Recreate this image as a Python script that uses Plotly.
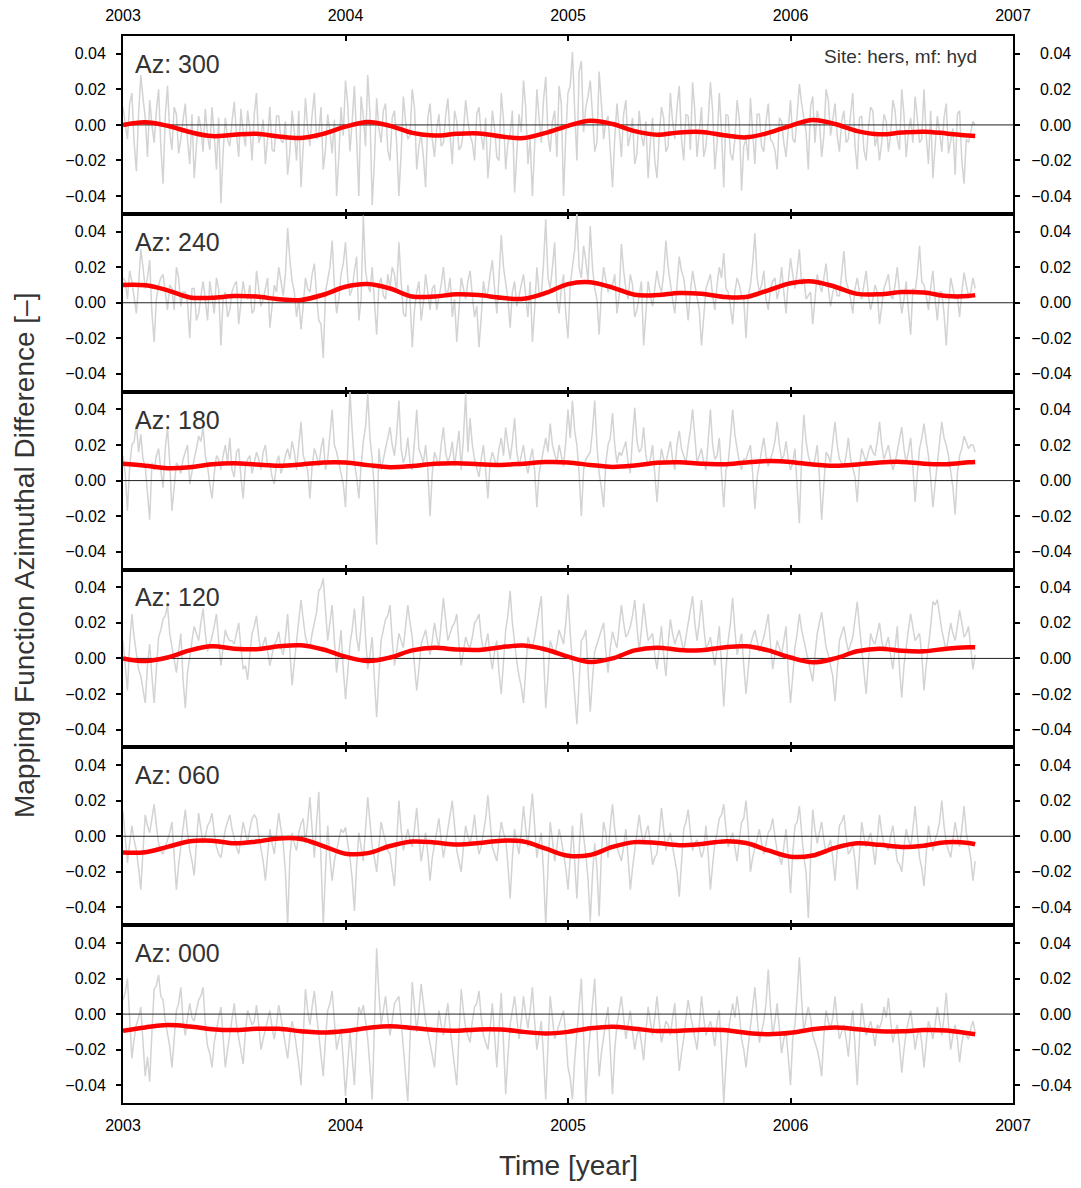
import numpy as np
import plotly.graph_objects as go

# ---------------- data (values in units of 1e-3) ----------------
AZ_LABELS = ["Az: 300", "Az: 240", "Az: 180", "Az: 120", "Az: 060", "Az: 000"]
SITE_LABEL = "Site: hers, mf: hyd"
YEAR_TICKS = [2003, 2004, 2005, 2006, 2007]
Y_TICKS = [-0.04, -0.02, 0.0, 0.02, 0.04]
Y_TICKTEXT_LEFT = ["\u22120.04", "\u22120.02", "0.00", "0.02", "0.04"]
Y_TICKTEXT_RIGHT = ["\u22120.04", "\u22120.02", "\u20070.00", "\u20070.02", "\u20070.04"]
T_START, T_END = 2003.0, 2006.83   # span of the difference series

RED_T = [2003.0, 2003.1, 2003.2, 2003.3, 2003.4, 2003.5, 2003.6, 2003.7, 2003.8, 2003.9,
         2004.0, 2004.1, 2004.2, 2004.3, 2004.4, 2004.5, 2004.6, 2004.7, 2004.8, 2004.9,
         2005.0, 2005.1, 2005.2, 2005.3, 2005.4, 2005.5, 2005.6, 2005.7, 2005.8, 2005.9,
         2006.0, 2006.1, 2006.2, 2006.3, 2006.4, 2006.5, 2006.6, 2006.7, 2006.8, 2006.83]

red_300 = [0.0, 1.5, -0.5, -4.0, -6.3, -5.5, -5.0, -6.5, -7.3, -5.0,
           -1.0, 1.7, -0.5, -4.5, -6.0, -5.0, -4.8, -6.5, -7.4, -4.5,
           -0.5, 2.3, 0.5, -3.5, -5.5, -4.2, -4.0, -5.8, -7.0, -4.5,
           -0.5, 2.8, 0.5, -3.5, -5.3, -4.3, -3.8, -4.8, -6.0, -6.2]
red_240 = [10.0, 9.8, 7.0, 3.0, 2.8, 3.8, 3.5, 2.0, 1.6, 4.5,
           9.0, 10.5, 8.0, 3.5, 3.5, 4.8, 4.3, 2.8, 2.2, 5.5,
           10.5, 11.5, 8.5, 4.5, 4.3, 5.5, 5.0, 3.3, 3.2, 7.0,
           11.0, 12.0, 9.0, 5.0, 4.8, 6.0, 5.8, 3.8, 3.8, 4.3]
red_180 = [9.4, 8.3, 7.0, 7.5, 9.2, 9.8, 9.0, 8.3, 9.0, 10.2,
           10.2, 8.7, 7.5, 8.2, 9.5, 9.8, 9.2, 8.8, 9.5, 10.4,
           10.2, 8.8, 7.7, 8.5, 10.0, 10.3, 9.5, 9.2, 10.2, 11.0,
           10.5, 9.0, 8.3, 9.0, 10.2, 10.5, 9.5, 9.2, 10.3, 10.5]
red_120 = [0.0, -1.5, 0.5, 4.5, 6.8, 5.5, 5.2, 6.8, 7.4, 5.0,
           1.0, -1.5, 0.5, 4.5, 6.0, 5.0, 4.8, 6.3, 7.2, 5.0,
           1.0, -2.0, 0.0, 4.5, 6.0, 4.8, 4.6, 6.2, 6.8, 4.5,
           0.5, -2.2, 0.0, 4.0, 5.5, 4.3, 4.0, 5.5, 6.3, 6.3]
red_060 = [-9.2, -9.0, -6.0, -2.8, -2.5, -4.0, -3.0, -1.2, -1.5, -5.5,
           -9.8, -9.5, -5.5, -3.0, -3.5, -4.7, -3.8, -2.5, -3.0, -7.0,
           -11.0, -10.5, -6.0, -3.3, -3.8, -5.0, -4.3, -2.9, -3.8, -8.0,
           -11.5, -10.8, -6.5, -4.0, -4.8, -6.0, -5.3, -3.4, -3.8, -4.5]
red_000 = [-9.4, -7.5, -6.2, -7.0, -8.5, -9.0, -8.3, -8.3, -9.6, -10.4,
           -9.5, -7.8, -6.8, -7.8, -9.0, -9.3, -8.6, -8.7, -10.0, -10.9,
           -10.0, -8.0, -7.1, -8.2, -9.5, -9.4, -8.8, -9.0, -10.5, -11.3,
           -10.5, -8.5, -7.5, -8.5, -9.6, -9.7, -9.0, -9.2, -10.8, -11.3]

# gray series: "a" samples and the in-between "b" samples (interleaved a0,b0,a1,b1,...)
gray_300_a = [10, -8, 18, -26, 28, 4, 14, -10, 20, -33,
              22, -14, 6, -8, 12, -22, -30, 5, -15, -6,
              10, -25, -44, 4, -12, 13, -18, -4, 8, -20,
              18, -6, -22, 10, -15, 5, -10, -28, 8, -20,
              -35, 15, -12, 18, -5, -25, 6, -16, -40, 10,
              25, -15, 22, -40, 5, 28, -45, 15, -10, 12,
              -20, 8, -40, 16, -8, 20, -25, -5, -35, 12,
              -18, 6, -10, 15, -22, 2, -12, 14, -6, -20,
              10, -14, -30, 8, -18, 18, -25, -5, -38, 6,
              25, -22, -40, 20, -10, 27, -15, 8, 22, -40,
              18, 41, -20, 36, 10, 25, -15, 30, -8, 5,
              -35, 12, -18, 14, -6, -22, 8, -12, -30, 4,
              -30, 10, -15, 18, -8, 22, -20, 5, 24, -18,
              10, -12, 24, -25, 18, -35, 5, -20, 14, -37,
              -8, 15, -22, 6, -15, 12, -10, -25, 2, -18,
              14, -10, 23, 4, -25, 16, 8, -18, 20, -6,
              12, -15, 8, -8, 18, -25, 5, -20, 10, -12,
              -20, 6, -15, 14, -8, 20, -18, 4, 16, -10,
              20, -22, -30, 5, -15, 12, -8, -28, 8, -33,
              -10, 2]
gray_300_b = [2, 12, -10, 6, 15, -18, 0, 8, -12, 5,
              -4, 10, -16, 3, -8, 6, -12, -2, 9, -14,
              -6, 4, -15, -8, 2, -5, 9, -12, -2, 6,
              -10, 3, -7, -14, 5, -9, 2, -15, -4, 8,
              -12, -2, 6, -8, 10, -14, -4, 3, -18, -6,
              12, 2, -8, 16, -12, 6, -20, -2, 8, -14,
              4, -10, -16, 2, -6, 10, -12, -18, 4, -8,
              -2, -12, 5, -6, 8, -14, -4, 2, -10, 6,
              -6, 4, -14, -2, -20, 3, -10, 8, -16, -4,
              10, -8, -12, 4, 14, -6, 2, -18, 12, -6,
              22, 8, 30, -4, 16, 6, -10, 12, 2, -14,
              -8, -2, 6, -12, 4, -16, -6, 2, -10, -20,
              -6, 4, -12, 2, 10, -8, 6, -14, 8, -4,
              -18, 2, 8, -10, -4, 6, -16, -8, 3, -12,
              -20, -4, 6, -12, 2, -8, -14, 4, -10, -2,
              -8, 6, 12, -4, 10, -10, 2, -6, 14, 4,
              -6, 2, -10, 6, -12, 4, -14, -2, 8, -6,
              -10, 2, -6, 8, -14, 6, -4, -10, 4, -8,
              -6, 8, -12, -4, 4, -16, -2, 6, -20, -8,
              -4, 0]

gray_240_a = [14, 2, 12, -6, 30, 8, 24, -22, 10, 16,
              -4, 8, 20, -2, 6, -20, 8, -6, 12, -10,
              4, 14, -24, 6, -4, 10, -12, 12, 2, -6,
              18, -2, 8, -14, 10, 20, 4, 42, 12, -8,
              -15, 14, 6, 22, -10, -31, 12, 35, -6, 16,
              34, 4, 18, -10, 49, 10, 20, -18, 14, 2,
              8, 16, 34, -6, 10, -25, 6, -10, 16, -4,
              10, 2, 20, 6, -8, -22, 14, 2, 18, -8,
              -25, 12, 6, 24, -6, 38, 10, -14, 12, 4,
              16, -8, -22, 20, 4, 47, 8, 34, -6, 16,
              -20, 22, 50, 14, 24, 43, 8, -18, 20, 6,
              10, -6, 33, 8, 16, -8, 4, -24, 12, -2,
              18, 6, 35, 10, -6, 26, 14, -10, 18, 2,
              -24, 8, 16, -4, 20, 28, 6, -12, 14, 4,
              -20, 10, 39, 6, 18, -4, 12, 2, 20, -6,
              25, 8, 30, 14, 4, -12, 16, 6, 22, -2,
              10, 4, 29, 8, -6, 14, 2, 18, -4, 10,
              -12, 8, 16, 2, 20, -6, 12, -18, 6, 32,
              10, -4, 18, -10, 6, -24, 14, 2, -8, 17,
              4, 14]
gray_240_b = [12, 18, 4, 10, 20, 14, -6, 2, 14, 6,
              10, -4, 14, 6, 0, 8, -10, 4, 2, 12,
              -6, 8, 2, -8, 6, 12, 0, 4, 10, -4,
              8, 2, 14, -2, 6, 12, 16, 24, 6, 2,
              -2, 8, 16, 4, -12, 6, 20, 10, 2, 22,
              14, 8, 26, 2, 18, 6, -2, 10, 4, 16,
              20, 6, 12, -8, 2, -4, 12, 0, 6, 8,
              -4, 10, 6, 14, 2, -6, 8, 12, 4, -2,
              -8, 4, 16, 8, 14, 20, 2, 6, -2, 10,
              4, 12, -4, 6, 22, 14, 20, 2, 8, -6,
              10, 30, 20, 32, 12, 20, 2, 6, 14, 10,
              16, 4, 18, 2, 10, -4, 12, -6, 4, 8,
              10, 16, 20, 2, 12, 18, 4, 6, 10, -4,
              -6, 12, 4, 10, 14, 8, -2, 6, 10, 2,
              4, 22, 14, 10, 2, 8, 14, 8, 6, 12,
              16, 18, 10, 2, 6, 4, 10, 14, 8, 6,
              4, 16, 12, 2, 8, 6, 10, 4, 2, 6,
              -2, 12, 4, 10, 6, 2, -4, 8, 16, 12,
              4, 8, 2, 6, -6, -2, 8, 4, 6, 10,
              6, 8]

gray_180_a = [14, -17, 20, 32, 26, 8, -22, 6, 18, -4,
              30, -17, 10, 4, 16, -2, 12, 25, 30, 8,
              -10, 14, 6, 20, 24, 2, 18, -10, 12, 4,
              16, 6, 20, 10, -2, 14, 8, 18, 22, 6,
              33, 10, -10, 18, 8, 24, 12, 40, 16, 4,
              -15, 50, 10, -10, 22, 49, 12, -36, 6, 18,
              30, 14, 45, 10, 24, 6, 40, 14, 20, -20,
              16, 8, 30, 10, 22, 18, 6, 49, 35, 12,
              2, 20, -10, 16, 8, 24, 30, 12, 35, 8,
              20, 4, 18, -15, 10, 24, 32, 14, 20, 8,
              40, 45, 20, -20, 12, 16, 45, 4, -15, 20,
              38, 10, 14, 22, 4, 41, 16, 30, 8, 20,
              -12, 18, 10, 22, 6, 28, 14, 20, 40, 10,
              18, 6, 40, 12, 24, -15, 10, 40, 18, 6,
              12, 20, -16, 10, 24, 8, 16, 33, 12, 22,
              6, 18, -24, 37, 14, 8, 20, -22, 16, 10,
              33, 12, 8, 24, 6, -12, 18, 10, 20, 14,
              33, 12, 20, 6, 16, 30, 10, 24, -12, 18,
              32, 14, -15, 10, 33, 20, 6, -19, 14, 25,
              18, 20]
gray_180_b = [4, 8, 22, 16, 12, -6, 10, 14, 6, 18,
              10, -4, 8, 12, 20, 6, 18, 22, 14, -2,
              4, 12, 14, 10, 6, 16, 2, 8, 14, 10,
              12, 16, 8, 2, 10, 4, 14, 12, 16, 20,
              14, 6, 8, 14, 18, 6, 24, 20, 10, -2,
              20, 28, 2, 8, 30, 24, -6, 18, 12, 24,
              20, 26, 18, 14, 10, 22, 18, 10, 6, 4,
              12, 20, 16, 14, 8, 28, 24, 16, 20, 6,
              12, 6, 10, 12, 18, 14, 20, 22, 16, 14,
              10, 12, 6, 4, 18, 16, 20, 10, 14, 22,
              24, 28, 4, 6, 14, 28, 20, -4, 10, 24,
              20, 16, 18, 10, 24, 22, 18, 14, 12, 4,
              6, 12, 16, 12, 20, 18, 10, 28, 22, 14,
              10, 22, 20, 14, 4, 6, 24, 26, 10, 12,
              16, 4, 2, 16, 14, 12, 22, 20, 14, 12,
              10, -4, 14, 22, 10, 12, 2, -2, 14, 22,
              20, 10, 14, 12, 2, 8, 14, 16, 16, 22,
              20, 16, 12, 10, 22, 18, 16, 8, 4, 24,
              22, 2, -2, 20, 24, 14, -4, 4, 18, 22,
              20, 16]

gray_120_a = [10, -18, 25, 4, -10, -25, 8, -25, 12, 22,
              30, 6, -8, 14, -28, 2, 18, 10, 28, 4,
              12, 25, -4, 16, 10, 8, 20, -6, -12, 14,
              24, 4, 12, -4, 8, 15, 2, 25, -15, 10,
              33, 12, 6, 20, 38, 45, 10, 30, -8, 16,
              -23, 8, 28, 4, 35, -6, 12, -33, 10, 22,
              30, -4, 14, 6, 30, 12, -18, 8, 16, 2,
              20, 6, 34, 10, 18, 25, -4, 12, 6, 20,
              25, 4, 14, -6, 10, -20, 16, 38, 8, -10,
              -25, 12, 6, 20, 35, -28, 10, 2, 16, 8,
              36, -6, -37, 10, 16, -30, 4, 12, 20, -8,
              15, 6, 30, 12, 18, 33, 4, 31, 10, 14,
              -6, 18, -10, 22, 8, 16, 4, 20, 35, 10,
              33, 6, 12, -4, 18, -27, 10, 34, 2, 14,
              -20, 8, 16, 4, 12, 25, -6, 10, 2, 18,
              -25, 6, 25, 10, -2, -13, 14, 26, 6, -4,
              -24, 10, 18, 4, 12, 32, 6, -20, 14, 8,
              20, 4, 12, -6, 18, -22, 8, 25, 10, 14,
              -18, 6, 32, 33, 16, 4, 20, 10, 27, 12,
              18, -6]
gray_120_b = [-6, 8, 12, -6, -18, -4, -10, -6, 16, 24,
              14, -2, 4, -12, -8, 10, 14, 20, 14, 8,
              18, 10, 6, 12, 10, 14, 6, -4, 2, 18,
              12, 8, 4, 2, 10, 6, 12, 4, -2, 20,
              22, 8, 14, 26, 40, 24, 20, 10, 4, -6,
              -8, 16, 12, 18, 12, 2, -12, -10, 16, 24,
              10, 4, 10, 18, 20, -4, -6, 12, 8, 10,
              12, 20, 22, 14, 20, 8, 4, 8, 12, 22,
              12, 8, 2, 4, -8, -2, 24, 20, -2, -16,
              -6, 8, 12, 26, 2, -10, 6, 8, 12, 20,
              14, -20, -12, 12, -6, -12, 8, 16, 4, 6,
              10, 18, 20, 14, 24, 18, 16, 20, 12, 2,
              6, 2, 8, 14, 12, 10, 12, 26, 20, 20,
              18, 8, 4, 6, -4, -6, 20, 16, 8, -4,
              -6, 12, 10, 8, 18, 8, 2, 6, 10, -8,
              -10, 14, 16, 4, -6, 2, 20, 16, 2, -10,
              -6, 14, 10, 8, 22, 18, -6, -2, 10, 14,
              10, 8, 2, 6, -6, -4, 16, 18, 12, 2,
              -4, 18, 30, 24, 10, 12, 14, 18, 20, 14,
              6, 2]

gray_060_a = [14, -15, 6, -8, -30, 12, 2, 18, -4, -10,
              -2, 8, -30, -6, 15, -8, -22, 13, -4, 6,
              13, -6, -12, 4, 12, -2, -10, 8, -4, 10,
              10, -6, -25, 4, -10, 13, -4, -50, 2, -8,
              7, -4, 22, -12, 25, -50, 6, -25, -8, 4,
              5, -12, -42, 2, -14, 22, -6, -20, 8, -4,
              -10, -28, 20, -8, 4, -6, 16, -14, 2, -25,
              -4, 10, -12, 4, 20, -8, -20, 6, -4, 12,
              -10, 2, 23, -6, -14, 8, -2, -35, 4, -10,
              17, -6, 24, -12, 2, -50, 8, -14, 4, -10,
              -30, 6, -35, 13, -10, -48, -4, -45, 8, -12,
              18, -6, -14, 4, -30, -8, 12, -4, 6, -16,
              -10, 16, -8, 2, -12, -34, 4, 15, -8, -2,
              -12, 6, -30, -4, 10, 18, -6, 2, -14, 8,
              20, -20, -6, 4, -10, 2, 10, -8, -16, 4,
              -32, 6, 17, -12, -46, 15, -4, 8, -10, -2,
              -25, 6, 12, -10, -4, -30, 8, -6, 2, -16,
              12, -4, -8, 6, -14, -20, 4, -6, 17, -12,
              -28, 6, -8, 2, 20, -4, -12, 8, -6, 17,
              -4, -25]
gray_060_b = [0, -4, -2, -18, -8, 6, 10, 6, -8, -6,
              2, -12, -16, 4, 2, -14, -4, 4, 0, 8,
              2, -10, -4, 8, 4, -6, 0, 2, 4, 12,
              0, -14, -10, -4, 2, 4, -20, -12, -4, 2,
              10, 8, 4, 8, -14, -20, -12, -14, -2, 2,
              -4, -24, -16, -6, 4, 8, -12, -6, 2, -8,
              -18, -4, 4, -2, -2, 4, 0, -6, -10, -12,
              4, -2, -4, 10, 6, -14, -6, 0, 2, -2,
              -6, 10, 8, -10, -2, 2, -16, -12, -4, 2,
              4, 10, 6, -4, -20, -18, -2, -6, -2, -18,
              -10, -14, -8, 0, -24, -22, -18, -10, 2, 6,
              4, -10, -6, -12, -18, 0, 2, 2, -4, -12,
              2, 4, -2, -6, -20, -14, 8, 2, -4, -6,
              -8, -10, -16, 2, 12, 4, -2, -6, -2, 10,
              4, -12, -2, -4, -4, 4, 0, -12, -6, -12,
              -10, 8, 2, -20, -14, 4, 2, -2, -6, -12,
              -8, 8, 0, -8, -14, -10, 0, -2, -6, -2,
              2, -6, 0, -4, -16, -6, -2, 4, 2, -18,
              -10, -2, -2, 8, 6, -8, -2, 0, 4, 2,
              -12, -14]

gray_000_a = [8, 20, -25, -6, 4, -35, -38, 14, 22, 8,
              -10, -30, 2, 15, -12, 6, -4, 8, 15, -18,
              -30, -8, 4, -30, -12, 6, -14, -28, 2, -6,
              5, -20, -8, 2, -14, 5, -10, -25, -4, -18,
              -40, 14, -6, 13, -12, -35, 2, 13, -20, -8,
              -46, -10, -40, 4, 5, -14, -48, 37, -6, 10,
              -12, 6, 10, -20, -49, 18, -10, 17, -4, -16,
              -30, 2, -12, 6, -20, -40, 14, -8, -16, 4,
              13, -12, -20, 6, -30, 12, -45, -6, 10, -14,
              10, -8, 15, -20, -4, -48, 10, -14, -6, 2,
              -30, -48, -10, 20, -50, -8, 20, -35, -12, 4,
              -45, -6, 10, -14, 2, -20, -8, -26, 4, -12,
              10, -16, -4, -12, 6, -32, -14, 8, -6, -20,
              10, -12, -4, -18, 2, -50, -10, 6, 10, -14,
              -30, -8, 15, -16, -4, 25, -12, 6, -22, -10,
              -40, -6, 32, -10, 4, -12, -20, -35, 2, -8,
              10, -14, -6, -24, 2, -40, 6, -12, -4, -18,
              -8, 4, 9, -16, -6, -33, -10, 2, -20, -8,
              -30, -4, -14, 4, -12, 12, -20, -6, -27, -10,
              -14, -4]
gray_000_b = [12, -4, -14, -2, -16, -24, -10, 16, 10, -4,
              -18, -12, 6, -4, -2, -2, 2, 10, -6, -22,
              -16, -2, -12, -20, -4, -6, -20, -10, -2, -4,
              -6, -14, -2, -8, -6, -2, -18, -12, -10, -28,
              -12, 2, 4, 0, -22, -14, 6, -4, -14, -26,
              -28, -24, -12, 0, -4, -30, -6, 12, 2, -2,
              -4, 8, -4, -34, -14, 4, 2, 6, -10, -22,
              -12, -6, -2, -8, -28, -12, 2, -12, -4, 6,
              -2, -16, -8, -12, -8, -16, -24, 2, -2, -4,
              0, 2, -4, -12, -24, -18, -2, -10, -2, -12,
              -36, -26, 2, -12, -24, 6, -8, -22, -4, -18,
              -20, 2, -2, -6, -10, -12, -16, -10, -4, -2,
              -4, -10, -6, -2, -14, -22, -2, 0, -12, -6,
              -2, -8, -10, -4, -22, -28, -2, -2, 0, -20,
              -18, 2, -2, -10, 6, 4, -4, -8, -14, -24,
              -14, 10, 8, -2, -2, -16, -26, -12, -4, -2,
              -4, -10, -14, -8, -18, -14, -4, -8, -10, -6,
              -4, -2, -4, -10, -18, -20, -4, -8, -12, -16,
              -16, -8, -6, -4, -2, -6, -12, -14, -16, -12,
              -8, -10]

GRAY = [(gray_300_a, gray_300_b), (gray_240_a, gray_240_b), (gray_180_a, gray_180_b),
        (gray_120_a, gray_120_b), (gray_060_a, gray_060_b), (gray_000_a, gray_000_b)]
RED = [red_300, red_240, red_180, red_120, red_060, red_000]
SCALE = 1e-3   # stored values are in thousandths


def interleave(a, b):
    out = []
    for j in range(max(len(a), len(b))):
        if j < len(a):
            out.append(a[j])
        if j < len(b):
            out.append(b[j])
    return out


# ---------------- figure ----------------
FONT = "Liberation Sans, Arial, Helvetica, sans-serif"
TEXT_GRAY = "#333333"

fig = go.Figure()
n = len(AZ_LABELS)
layout = dict(
    width=1081, height=1188,
    margin=dict(l=123, r=68, t=36, b=85, autoexpand=False),
    paper_bgcolor="white", plot_bgcolor="white",
    showlegend=False,
    font=dict(family=FONT, size=16, color="black"),
    annotations=[],
)

for i in range(n):
    k = i + 1
    kr = i + 1 + n
    xs = "" if k == 1 else str(k)
    ys = "" if k == 1 else str(k)
    yr = str(kr)
    gvals = np.array(interleave(*GRAY[i]), dtype=float) * SCALE
    gx = np.linspace(T_START, T_END, len(gvals))
    rvals = np.array(RED[i], dtype=float) * SCALE

    fig.add_trace(go.Scatter(x=gx, y=gvals, mode="lines",
                             line=dict(color="#d3d3d3", width=1.5),
                             xaxis="x" + xs, yaxis="y" + ys, hoverinfo="skip"))
    fig.add_trace(go.Scatter(x=[YEAR_TICKS[0], YEAR_TICKS[-1]], y=[0, 0], mode="lines",
                             line=dict(color="#222222", width=1),
                             xaxis="x" + xs, yaxis="y" + yr, hoverinfo="skip"))
    fig.add_trace(go.Scatter(x=RED_T, y=rvals, mode="lines",
                             line=dict(color="#ff0000", width=4.5, shape="spline", smoothing=1.0),
                             xaxis="x" + xs, yaxis="y" + yr, hoverinfo="skip"))

    top = 1 - i / n
    bot = 1 - (i + 1) / n
    show_x = (i == 0) or (i == n - 1)
    layout["xaxis" + xs] = dict(
        domain=[0, 1], anchor="y" + ys, range=[YEAR_TICKS[0], YEAR_TICKS[-1]],
        tickvals=YEAR_TICKS, ticktext=[str(v) for v in YEAR_TICKS],
        ticks="inside", ticklen=5, tickwidth=1.5, tickcolor="black",
        showline=True, linewidth=2, linecolor="black", mirror="ticks",
        showgrid=False, zeroline=False, showticklabels=show_x,
        side="top" if i == 0 else "bottom", ticklabelstandoff=7,
        tickfont=dict(size=16, family=FONT, color="black"),
        automargin=False, fixedrange=True,
    )
    common_y = dict(
        range=[-0.05, 0.05], tickvals=Y_TICKS,
        ticks="outside", ticklen=5, tickwidth=1.5, tickcolor="black",
        showgrid=False, zeroline=False,
        tickfont=dict(size=16, family=FONT, color="black"),
        automargin=False, fixedrange=True,
    )
    layout["yaxis" + ys] = dict(domain=[bot, top], anchor="x" + xs, side="left",
                                showline=True, linewidth=2, linecolor="black", mirror=True,
                                ticktext=Y_TICKTEXT_LEFT, ticklabelstandoff=7, **common_y)
    layout["yaxis" + yr] = dict(overlaying="y" + ys, anchor="x" + xs, side="right",
                                showline=True, linewidth=2, linecolor="black",
                                ticktext=Y_TICKTEXT_RIGHT, ticklabelstandoff=8, **common_y)

    layout["annotations"].append(dict(
        text=AZ_LABELS[i], xref="x" + xs + " domain", yref="y" + ys + " domain",
        x=0.011, y=0.843, xanchor="left", yanchor="middle", showarrow=False,
        font=dict(size=25, family=FONT, color=TEXT_GRAY)))

layout["annotations"].append(dict(
    text=SITE_LABEL, xref="x domain", yref="y domain", x=0.962, y=0.885,
    xanchor="right", yanchor="middle", showarrow=False,
    font=dict(size=19, family=FONT, color=TEXT_GRAY)))
layout["annotations"].append(dict(
    text="Mapping Function Azimuthal Difference [\u2013]", xref="paper", yref="paper",
    x=-0.110, y=0.5136, xanchor="center", yanchor="middle", textangle=-90, showarrow=False,
    font=dict(size=28, family=FONT, color=TEXT_GRAY)))
layout["annotations"].append(dict(
    text="Time [year]", xref="paper", yref="paper",
    x=0.5, y=-0.059, xanchor="center", yanchor="middle", showarrow=False,
    font=dict(size=28, family=FONT, color=TEXT_GRAY)))

fig.update_layout(**layout)
fig.write_html("out.html", config={"displayModeBar": False},
               post_script="document.body.style.margin='0';")
